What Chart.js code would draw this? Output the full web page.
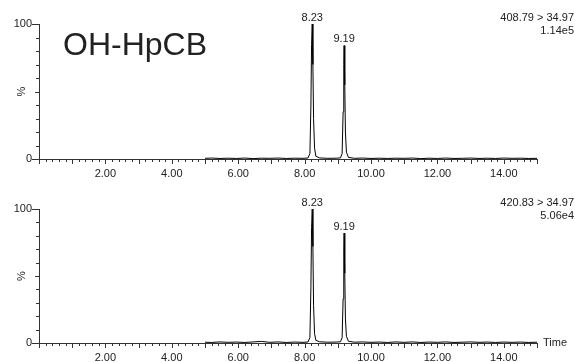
<!DOCTYPE html>
<html>
<head>
<meta charset="utf-8">
<script src="https://cdn.jsdelivr.net/npm/chart.js@4"></script>
<style>
  body { margin: 0; background: #fff; }
  canvas { display: block; }
</style>
</head>
<body>
<canvas id="top" width="575" height="181"></canvas>
<canvas id="bottom" width="575" height="181"></canvas>
<script>
const times = [5.00, 5.20, 5.45, 5.70, 5.95, 6.20, 6.45, 6.70, 6.95, 7.20, 7.45, 7.70, 7.95, 8.10, 8.16, 8.19, 8.21, 8.23, 8.25, 8.27, 8.30, 8.34, 8.45, 8.70, 8.95, 9.08, 9.13, 9.16, 9.18, 9.19, 9.21, 9.23, 9.26, 9.32, 9.50, 9.75, 10.00, 10.25, 10.50, 10.75, 11.00, 11.25, 11.50, 11.75, 12.00, 12.25, 12.50, 12.75, 13.00, 13.25, 13.50, 13.75, 14.00, 14.25, 14.50, 14.75, 15.00];
const topValues = [0.5, 0.7, 0.4, 0.6, 0.4, 0.7, 0.3, 0.6, 0.5, 0.7, 0.4, 0.6, 0.5, 0.7, 4, 40, 85, 100, 70, 30, 8, 2, 0.8, 0.5, 0.6, 0.8, 4, 35, 70, 84, 55, 20, 5, 1.2, 0.5, 0.7, 0.4, 0.6, 0.4, 0.6, 0.5, 0.7, 0.3, 0.6, 0.4, 0.7, 0.4, 0.5, 0.7, 0.4, 0.6, 0.4, 0.7, 0.5, 0.6, 0.4, 0.5];
const bottomValues = [0.6, 0.4, 0.8, 0.5, 0.7, 0.4, 0.8, 1.2, 0.5, 0.8, 0.4, 0.7, 0.5, 0.7, 4, 42, 86, 100, 72, 28, 7, 2, 0.9, 0.6, 0.7, 0.9, 4, 33, 68, 82, 52, 18, 5, 1.3, 0.6, 0.8, 0.5, 0.7, 0.4, 0.8, 0.5, 0.8, 0.4, 0.7, 0.5, 0.8, 0.4, 0.6, 0.8, 0.5, 0.7, 0.4, 0.7, 0.5, 0.7, 0.4, 0.6];

const peakTimes = [8.23, 9.19];
const peakLabels = ["8.23", "9.19"];
const topPeaks = [100, 84];
const bottomPeaks = [100, 82];

const xLabelValues = [2, 4, 6, 8, 10, 12, 14];
const yLabelValues = [0, 100];

const FONT = "'Liberation Sans', Arial, sans-serif";
const INK = "#222";
const AXIS = "#333";

// tick marks, peak labels and the other annotations
const decor = {
  id: "decor",
  afterDraw(chart, args, opts) {
    const { ctx, chartArea } = chart;
    const x = chart.scales.x;
    const y = chart.scales.y;
    ctx.save();
    ctx.strokeStyle = AXIS;
    ctx.lineWidth = 1;
    ctx.beginPath();
    for (let i = 0; i <= 75; i++) {
      const px = Math.round(x.getPixelForValue(i * 0.2)) + 0.5;
      const len = i % 5 === 0 ? 5 : 3;
      ctx.moveTo(px, chartArea.bottom);
      ctx.lineTo(px, chartArea.bottom + len);
    }
    for (let i = 0; i <= 10; i++) {
      const py = Math.round(y.getPixelForValue(i * 10)) + 0.5;
      const len = i === 0 || i === 10 ? 7 : i === 5 ? 4 : 3;
      ctx.moveTo(chartArea.left - len, py);
      ctx.lineTo(chartArea.left, py);
    }
    ctx.stroke();

    ctx.fillStyle = INK;
    ctx.font = "11px " + FONT;

    // peak retention times
    ctx.textAlign = "center";
    ctx.textBaseline = "bottom";
    opts.peaks.forEach((v, i) => {
      ctx.fillText(peakLabels[i], x.getPixelForValue(peakTimes[i]), y.getPixelForValue(v) - 1);
    });

    // transition and intensity, top right
    ctx.textAlign = "right";
    ctx.textBaseline = "middle";
    ctx.fillText(opts.transition, 574, chartArea.top - 6);
    ctx.fillText(opts.intensity, 574, chartArea.top + 7);

    // y axis title
    ctx.save();
    ctx.translate(22, y.getPixelForValue(50));
    ctx.rotate(-Math.PI / 2);
    ctx.textAlign = "center";
    ctx.fillText("%", 0, 0);
    ctx.restore();

    if (opts.showTime) {
      ctx.textAlign = "left";
      ctx.textBaseline = "middle";
      ctx.fillText("Time", chartArea.right + 6, chartArea.bottom);
    }
    if (opts.title) {
      ctx.textAlign = "left";
      ctx.textBaseline = "alphabetic";
      ctx.font = "32px " + FONT;
      ctx.fillText(opts.title, 63, 55);
    }
    ctx.restore();
  },
};

function makeChart(id, values, extra) {
  return new Chart(document.getElementById(id), {
    type: "line",
    data: {
      datasets: [
        {
          data: times.map((t, i) => ({ x: t, y: values[i] })),
          borderColor: "#000",
          borderWidth: 1,
          pointRadius: 0,
          tension: 0,
          fill: false,
        },
      ],
    },
    options: {
      responsive: false,
      animation: false,
      layout: { padding: { top: extra.top, right: 38, left: 0, bottom: 0 } },
      plugins: {
        legend: { display: false },
        tooltip: { enabled: false },
        decor: extra,
      },
      scales: {
        x: {
          type: "linear",
          min: 0,
          max: 15,
          afterBuildTicks: (s) => { s.ticks = xLabelValues.map((v) => ({ value: v })); },
          afterFit: (s) => { s.height = extra.axisHeight; },
          grid: { display: false, drawTicks: false },
          border: { display: true, color: AXIS },
          ticks: {
            color: INK,
            font: { family: FONT, size: 11 },
            padding: 8,
            maxRotation: 0,
            autoSkip: false,
            callback: (v) => v.toFixed(2),
          },
        },
        y: {
          min: 0,
          max: 100,
          afterBuildTicks: (s) => { s.ticks = yLabelValues.map((v) => ({ value: v })); },
          afterFit: (s) => { s.width = 39; },
          grid: { display: false, drawTicks: false },
          border: { display: true, color: AXIS },
          ticks: {
            color: INK,
            font: { family: FONT, size: 11 },
            padding: 7,
            callback: (v) => String(v),
          },
        },
      },
    },
    plugins: [decor],
  });
}

makeChart("top", topValues, {
  top: 24,
  axisHeight: 22,
  peaks: topPeaks,
  transition: "408.79 > 34.97",
  intensity: "1.14e5",
  title: "OH-HpCB",
  showTime: false,
});

makeChart("bottom", bottomValues, {
  top: 28,
  axisHeight: 19,
  peaks: bottomPeaks,
  transition: "420.83 > 34.97",
  intensity: "5.06e4",
  title: "",
  showTime: true,
});
</script>
</body>
</html>
